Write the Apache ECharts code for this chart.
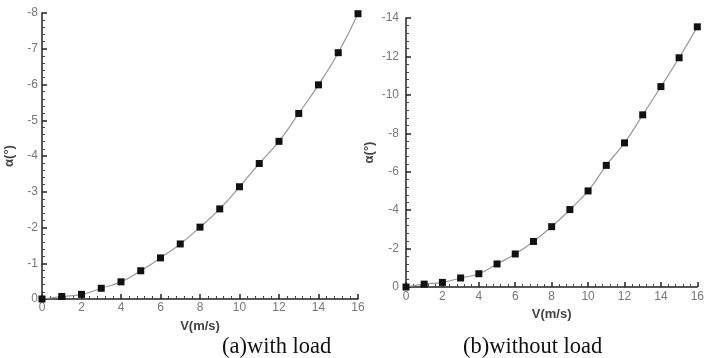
<!DOCTYPE html>
<html>
<head>
<meta charset="utf-8">
<script src="https://cdn.jsdelivr.net/npm/echarts@6/dist/echarts.min.js"></script>
<style>
  html, body { margin: 0; padding: 0; background: #fff; }
  #chart { width: 707px; height: 358px; }
</style>
</head>
<body>
<div id="chart"></div>
<script>
// wind speed V (m/s)
const speeds = [0, 1, 2, 3, 4, 5, 6, 7, 8, 9, 10, 11, 12, 13, 14, 15, 16];
// α (°) with load
const alphaWithLoad = [0, -0.07, -0.13, -0.30, -0.48, -0.79, -1.15, -1.54, -2.01, -2.52, -3.14, -3.79, -4.41, -5.19, -5.99, -6.89, -7.98];
// α (°) without load
const alphaWithoutLoad = [0, -0.15, -0.24, -0.47, -0.69, -1.20, -1.72, -2.37, -3.14, -4.03, -5.00, -6.33, -7.50, -8.96, -10.43, -11.93, -13.54];
const captions = ['(a)with load', '(b)without load'];

const chart = echarts.init(document.getElementById('chart'));

function xAxisOf(gridIndex, labelMargin) {
  return {
    type: 'value', gridIndex: gridIndex, min: 0, max: 16, interval: 2,
    name: 'V(m/s)', nameLocation: 'middle', nameGap: 21,
    nameTextStyle: { fontFamily: 'Liberation Sans', fontWeight: 'bold', fontSize: 13, color: '#444' },
    axisLine: { onZero: false, lineStyle: { color: '#222', width: 1.5 } },
    axisTick: { inside: true, length: 5, lineStyle: { color: '#222', width: 1.5 } },
    minorTick: { show: true, splitNumber: 5, length: 3, lineStyle: { color: '#444' } },
    axisLabel: { margin: labelMargin, fontFamily: 'Liberation Sans', fontSize: 12, color: '#777' },
    splitLine: { show: false }
  };
}

function yAxisOf(gridIndex, min, interval, labelMargin, nameGap) {
  return {
    type: 'value', gridIndex: gridIndex, min: min, max: 0, interval: interval, inverse: true,
    name: 'α(°)', nameLocation: 'middle', nameGap: nameGap, nameRotate: 90,
    nameTextStyle: { fontFamily: 'Liberation Sans', fontWeight: 'bold', fontSize: 13, color: '#444' },
    axisLine: { show: true, onZero: false, lineStyle: { color: '#222', width: 1.5 } },
    axisTick: { show: true, inside: true, length: 5, lineStyle: { color: '#222', width: 1.5 } },
    minorTick: { show: true, splitNumber: 5, length: 3, lineStyle: { color: '#444' } },
    axisLabel: { margin: labelMargin, fontFamily: 'Liberation Sans', fontSize: 12, color: '#777' },
    splitLine: { show: false }
  };
}

function seriesOf(idx, values) {
  return {
    type: 'line', xAxisIndex: idx, yAxisIndex: idx,
    data: speeds.map((v, i) => [v, values[i]]),
    smooth: true,
    symbol: 'rect', symbolSize: 7,
    itemStyle: { color: '#111' },
    lineStyle: { color: '#999', width: 1.2 }
  };
}

let option = {
  animation: false,
  grid: [
    { left: 42, right: 349, top: 13, bottom: 59 },
    { left: 406, right: 2, top: 18, bottom: 71 }
  ],
  xAxis: [xAxisOf(0, 3), xAxisOf(1, 4)],
  yAxis: [yAxisOf(0, -8, 1, 4, 26), yAxisOf(1, -14, 2, 7, 30)],
  series: [seriesOf(0, alphaWithLoad), seriesOf(1, alphaWithoutLoad)],
  graphic: [
    { type: 'text', left: 222, top: 336, style: { text: captions[0], font: '22.5px "Liberation Serif"', fill: '#111' } },
    { type: 'text', left: 463, top: 336, style: { text: captions[1], font: '22.5px "Liberation Serif"', fill: '#111' } }
  ]
};

chart.setOption(option);
</script>
</body>
</html>
